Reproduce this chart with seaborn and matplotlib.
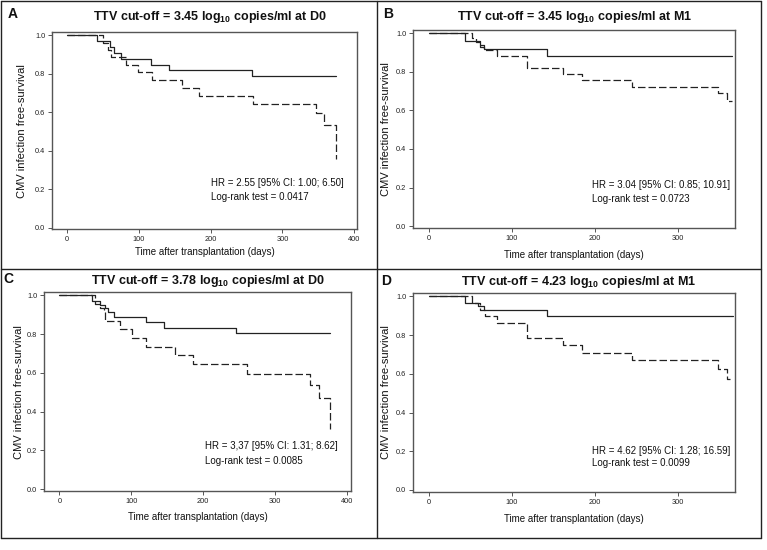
import matplotlib
matplotlib.use("Agg")
import matplotlib.pyplot as plt
import seaborn as sns
import pandas as pd
from matplotlib.lines import Line2D

# ---------------- data ----------------
# Panel A: cut-off 3.45 at D0
a_low_t = [0, 42, 60, 66, 76, 117, 142, 257, 374]
a_low_s = [1.0, 0.970, 0.940, 0.909, 0.879, 0.848, 0.818, 0.788, 0.788]
a_high_t = [0, 51, 58, 62, 82, 99, 118, 160, 184, 259, 346, 358, 374]
a_high_s = [1.0, 0.962, 0.923, 0.885, 0.846, 0.808, 0.769, 0.725, 0.685, 0.642, 0.597, 0.535, 0.357]

# Panel B: cut-off 3.45 at M1
b_low_t = [0, 43, 62, 66, 142, 365]
b_low_s = [1.0, 0.960, 0.940, 0.920, 0.880, 0.880]
b_high_t = [0, 52, 57, 62, 66, 82, 118, 161, 185, 245, 348, 359, 365]
b_high_s = [1.0, 0.976, 0.952, 0.928, 0.910, 0.880, 0.820, 0.788, 0.755, 0.721, 0.690, 0.650, 0.650]

# Panel C: cut-off 3.78 at D0
c_low_t = [0, 45, 56, 64, 67, 76, 120, 145, 245, 376]
c_low_s = [1.0, 0.972, 0.953, 0.935, 0.914, 0.888, 0.862, 0.833, 0.806, 0.806]
c_high_t = [0, 50, 56, 62, 64, 84, 101, 121, 161, 186, 261, 349, 361, 376]
c_high_s = [1.0, 0.957, 0.935, 0.913, 0.868, 0.828, 0.780, 0.735, 0.690, 0.644, 0.593, 0.538, 0.471, 0.310]

# Panel D: cut-off 4.23 at M1
d_low_t = [0, 43, 59, 66, 142, 366]
d_low_s = [1.0, 0.966, 0.948, 0.931, 0.900, 0.900]
d_high_t = [0, 52, 62, 67, 82, 118, 161, 185, 245, 348, 359, 363]
d_high_s = [1.0, 0.966, 0.931, 0.897, 0.862, 0.784, 0.748, 0.709, 0.671, 0.626, 0.574, 0.574]

titles_val = ["3.45", "3.45", "3.78", "4.23"]
titles_time = ["D0", "M1", "D0", "M1"]
letters = ["A", "B", "C", "D"]
hr_texts = ["HR = 2.55 [95% CI: 1.00; 6.50]",
            "HR = 3.04 [95% CI: 0.85; 10.91]",
            "HR = 3,37 [95% CI: 1.31; 8.62]",
            "HR = 4.62 [95% CI: 1.28; 16.59]"]
lr_texts = ["Log-rank test = 0.0417",
            "Log-rank test = 0.0723",
            "Log-rank test = 0.0085",
            "Log-rank test = 0.0099"]
x_ticks_long = [0, 100, 200, 300, 400]
x_ticks_short = [0, 100, 200, 300]
y_ticks = [0.0, 0.2, 0.4, 0.6, 0.8, 1.0]

# ---------------- style ----------------
sns.set_style("white")
plt.rcParams["font.family"] = ["Liberation Sans", "DejaVu Sans"]
plt.rcParams["mathtext.fontset"] = "custom"
plt.rcParams["mathtext.rm"] = "Liberation Sans"
plt.rcParams["mathtext.bf"] = "Liberation Sans:bold"

W, H = 767, 550
fig = plt.figure(figsize=(W / 100, H / 100), dpi=100)
fig.patch.set_facecolor("white")


def fx(px):
    return px / W


def fy(py):
    return 1 - py / H


panels = [
    dict(low=(a_low_t, a_low_s), high=(a_high_t, a_high_s), box=(52.3, 32.3, 357.3, 229.3),
         xlim=(-20, 404), xticks=x_ticks_long, title_xy=(210, 17), letter_xy=(13, 14),
         txt=(201, 0.232, 0.158), ylab_px=27, xlab_dy=18),
    dict(low=(b_low_t, b_low_s), high=(b_high_t, b_high_s), box=(413.3, 30.0, 735.0, 228.0),
         xlim=(-19, 369), xticks=x_ticks_short, title_xy=(575, 17), letter_xy=(388, 14),
         txt=(197, 0.215, 0.14), ylab_px=391, xlab_dy=22),
    dict(low=(c_low_t, c_low_s), high=(c_high_t, c_high_s), box=(44.3, 292.3, 350.7, 491.0),
         xlim=(-21, 405), xticks=x_ticks_long, title_xy=(208, 281), letter_xy=(8, 279),
         txt=(203, 0.224, 0.146), ylab_px=24, xlab_dy=21),
    dict(low=(d_low_t, d_low_s), high=(d_high_t, d_high_s), box=(413.3, 293.3, 735.0, 491.7),
         xlim=(-19, 369), xticks=x_ticks_short, title_xy=(579, 282), letter_xy=(386, 281),
         txt=(197, 0.2, 0.14), ylab_px=391, xlab_dy=22),
]

spine_col = "#555555"
for i, p in enumerate(panels):
    l, t, r, b = p["box"]
    ax = fig.add_axes([fx(l), fy(b), fx(r) - fx(l), (b - t) / H])
    frames = []
    for grp, (tt, ss) in (("low", p["low"]), ("high", p["high"])):
        frames.append(pd.DataFrame({"time": tt, "surv": ss, "group": grp}))
    df = pd.concat(frames, ignore_index=True)
    sns.lineplot(data=df, x="time", y="surv", style="group",
                 dashes={"low": "", "high": (6, 2.4)},
                 drawstyle="steps-post", estimator=None, sort=False,
                 color="#222222", linewidth=0.9, legend=False, ax=ax)
    ax.set_xlim(*p["xlim"])
    ax.set_ylim(-0.009, 1.016)
    ax.set_xticks(p["xticks"])
    ax.set_xticklabels([str(v) for v in p["xticks"]], fontsize=5.3)
    ax.set_yticks(y_ticks)
    ax.set_yticklabels([f"{v:.1f}" for v in y_ticks], fontsize=5.3)
    ax.tick_params(axis="both", which="both", direction="out", length=3, width=0.7,
                   color=spine_col, pad=2, labelcolor="#222222",
                   bottom=True, left=True)
    for s in ax.spines.values():
        s.set_color(spine_col)
        s.set_linewidth(1.0)
    ax.set_xlabel("Time after transplantation (days)", fontsize=7, color="#111111")
    ax.set_ylabel("CMV infection free-survival", fontsize=8, color="#111111")
    ax.yaxis.set_label_coords((p["ylab_px"] - l) / (r - l), 0.5)
    ax.xaxis.set_label_coords(0.5, -p["xlab_dy"] / (b - t))
    tx, ty1, ty2 = p["txt"]
    ax.text(tx, ty1, hr_texts[i], fontsize=7, va="center", ha="left", color="#111111")
    ax.text(tx, ty2, lr_texts[i], fontsize=7, va="center", ha="left", color="#111111")

    title = (r"TTV cut-off = " + titles_val[i] + r" log$_{\mathbf{10}}$ copies/ml at "
             + titles_time[i])
    fig.text(fx(p["title_xy"][0]), fy(p["title_xy"][1]), title, fontsize=9,
             fontweight="bold", ha="center", va="center", color="#111111")
    fig.text(fx(p["letter_xy"][0]), fy(p["letter_xy"][1]), letters[i], fontsize=10,
             fontweight="bold", ha="center", va="center", color="#111111")

# panel frame lines
frame_lines = [
    ((1, 1), (761, 1)), ((1, 538), (761, 538)), ((1, 1), (1, 538)), ((761, 1), (761, 538)),
    ((377, 1), (377, 538)), ((1, 269), (761, 269)),
]
for (x0, y0), (x1, y1) in frame_lines:
    fig.add_artist(Line2D([fx(x0), fx(x1)], [fy(y0), fy(y1)], color="#222222",
                          linewidth=1.0, transform=fig.transFigure))

fig.savefig("out.png", dpi=100, facecolor="white")
